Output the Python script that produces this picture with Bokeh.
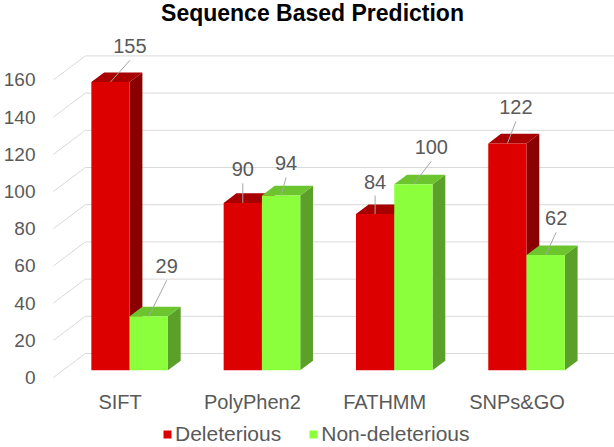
from bokeh.plotting import figure
from bokeh.models import Range1d, FixedTicker, Legend, LegendItem, Label
from bokeh.core.properties import value
from bokeh.embed import file_html
from bokeh.resources import INLINE

# ---- data -------------------------------------------------------------
chart_title = "Sequence Based Prediction"
tools = ["SIFT", "PolyPhen2", "FATHMM", "SNPs&GO"]
deleterious = [155, 90, 84, 122]
non_deleterious = [29, 94, 100, 62]
series_names = ["Deleterious", "Non-deleterious"]
y_ticks = [0, 20, 40, 60, 80, 100, 120, 140, 160]

# ---- layout / style ---------------------------------------------------
W, H = 614, 447
FRAME_LEFT = 40          # room for the value axis labels
CAT_PX = 133.0           # pixels between two tool groups
CAT0_PX = 117.0          # pixel column of the first group (front plane)
VAL_PX = 1.86            # pixels per unit on the value axis
BASE_PX = 377.0          # pixel row of value 0 on the front plane
DEPTH_PX = (32.0, 24.0)  # oblique depth of the chart box (right, up)
Z_FRONT, Z_BACK = 0.3, 0.7   # bar depth inside the box
BAR_PX = 38.5
WALL_PX = 50.0           # pixel column where the floor/gridlines start

FONT = "Liberation Sans"
TEXT_COLOR = "#595959"
GRID_COLOR = "#D9D9D9"
LEADER_COLOR = "#A6A6A6"

# front, top, side colours per series
FACE_COLORS = [
    ("#DD0000", "#A80000", "#8A0000"),
    ("#8CFF3C", "#6CC42E", "#5BA028"),
]
# data-label offsets (pixels) from the top-front centre of each bar
LABEL_OFFSETS = [
    [(19.5, -35.7), (0.0, -33.6), (0.0, -32.5), (8.5, -36.0)],
    [(18.0, -50.0), (5.0, -32.0), (18.0, -37.0), (10.5, -36.6)],
]
LEADER_GAP_PX = 14.0

DX = DEPTH_PX[0] / CAT_PX
DY = DEPTH_PX[1] / VAL_PX
BW = BAR_PX / CAT_PX
WALL_X = (WALL_PX - CAT0_PX) / CAT_PX

x_range = Range1d((FRAME_LEFT - CAT0_PX) / CAT_PX, (W - CAT0_PX) / CAT_PX)
y_range = Range1d((BASE_PX - H) / VAL_PX, BASE_PX / VAL_PX)

p = figure(width=W, height=H, x_range=x_range, y_range=y_range,
           output_backend="svg", toolbar_location=None,
           x_axis_location=None, y_axis_location="left",
           min_border_left=FRAME_LEFT, min_border_right=0,
           min_border_top=0, min_border_bottom=0)
p.grid.visible = False
p.outline_line_color = None
p.background_fill_color = "white"
p.border_fill_color = "white"

ax = p.yaxis[0]
ax.ticker = FixedTicker(ticks=y_ticks)
ax.axis_line_color = None
ax.major_tick_line_color = None
ax.minor_tick_line_color = None
ax.major_tick_out = 0
ax.major_tick_in = 0
ax.major_label_standoff = 8
ax.major_label_text_font = FONT
ax.major_label_text_font_size = "19px"
ax.major_label_text_color = TEXT_COLOR

# ---- gridlines: floor diagonal + back wall ----------------------------
gx, gy = [], []
for t in y_ticks:
    gx.append([WALL_X, WALL_X + DX, x_range.end])
    gy.append([t, t + DY, t + DY])
p.multi_line(gx, gy, line_color=GRID_COLOR, line_width=1)

# ---- 3-D bars ----------------------------------------------------------
front_renderers = []
for s, vals in enumerate([deleterious, non_deleterious]):
    front_c, top_c, side_c = FACE_COLORS[s]
    left, right, bottom, top = [], [], [], []
    tx, ty, sx, sy = [], [], [], []
    for i, v in enumerate(vals):
        x0 = i - BW + s * BW
        x1 = x0 + BW
        left.append(x0 + Z_FRONT * DX)
        right.append(x1 + Z_FRONT * DX)
        bottom.append(Z_FRONT * DY)
        top.append(v + Z_FRONT * DY)
        tx.append([x0 + Z_FRONT * DX, x1 + Z_FRONT * DX, x1 + Z_BACK * DX, x0 + Z_BACK * DX])
        ty.append([v + Z_FRONT * DY, v + Z_FRONT * DY, v + Z_BACK * DY, v + Z_BACK * DY])
        sx.append([x1 + Z_FRONT * DX, x1 + Z_BACK * DX, x1 + Z_BACK * DX, x1 + Z_FRONT * DX])
        sy.append([Z_FRONT * DY, Z_BACK * DY, v + Z_BACK * DY, v + Z_FRONT * DY])
    p.patches(sx, sy, fill_color=side_c, line_color=None)
    p.patches(tx, ty, fill_color=top_c, line_color=None)
    r = p.quad(left=left, right=right, bottom=bottom, top=top,
               fill_color=front_c, line_color=None)
    front_renderers.append(r)

# ---- data labels with leader lines ------------------------------------
for s, vals in enumerate([deleterious, non_deleterious]):
    lx0, ly0, lx1, ly1, tx, ty, txt = [], [], [], [], [], [], []
    for i, v in enumerate(vals):
        cx = i - BW + s * BW + BW / 2 + Z_FRONT * DX
        cy = v + Z_FRONT * DY
        dx, dy = LABEL_OFFSETS[s][i]
        ex = cx + dx / CAT_PX
        lx0.append(cx)
        ly0.append(cy)
        lx1.append(ex)
        ly1.append(cy - (dy + LEADER_GAP_PX) / VAL_PX)
        tx.append(ex)
        ty.append(cy - dy / VAL_PX)
        txt.append(str(v))
    p.segment(lx0, ly0, lx1, ly1, line_color=LEADER_COLOR, line_width=1)
    p.text(tx, ty, text=txt, text_align="center", text_baseline="middle",
           text_font=value(FONT), text_font_size="20px", text_color=TEXT_COLOR)

# ---- category labels --------------------------------------------------
p.text(list(range(len(tools))), [0] * len(tools), text=tools,
       y_offset=24, text_align="center", text_baseline="middle",
       text_font=value(FONT), text_font_size="20px", text_color=TEXT_COLOR)

# ---- title --------------------------------------------------------------
p.add_layout(Label(x=309 - FRAME_LEFT, y=H - 12, x_units="screen", y_units="screen",
                   text=chart_title, text_align="center", text_baseline="middle",
                   text_font=FONT, text_font_size="23px", text_font_style="bold",
                   text_color="#000000"))

# ---- legend -------------------------------------------------------------
legend = Legend(items=[LegendItem(label=series_names[k], renderers=[front_renderers[k]])
                       for k in range(2)],
                orientation="horizontal", location=(159 - FRAME_LEFT, 1),
                glyph_width=10, glyph_height=10, label_standoff=3, spacing=27,
                padding=0, margin=0, border_line_color=None,
                background_fill_alpha=0,
                label_text_font=FONT, label_text_font_size="21px",
                label_text_color=TEXT_COLOR)
p.add_layout(legend)

open("out.html", "w").write(file_html(p, INLINE))
